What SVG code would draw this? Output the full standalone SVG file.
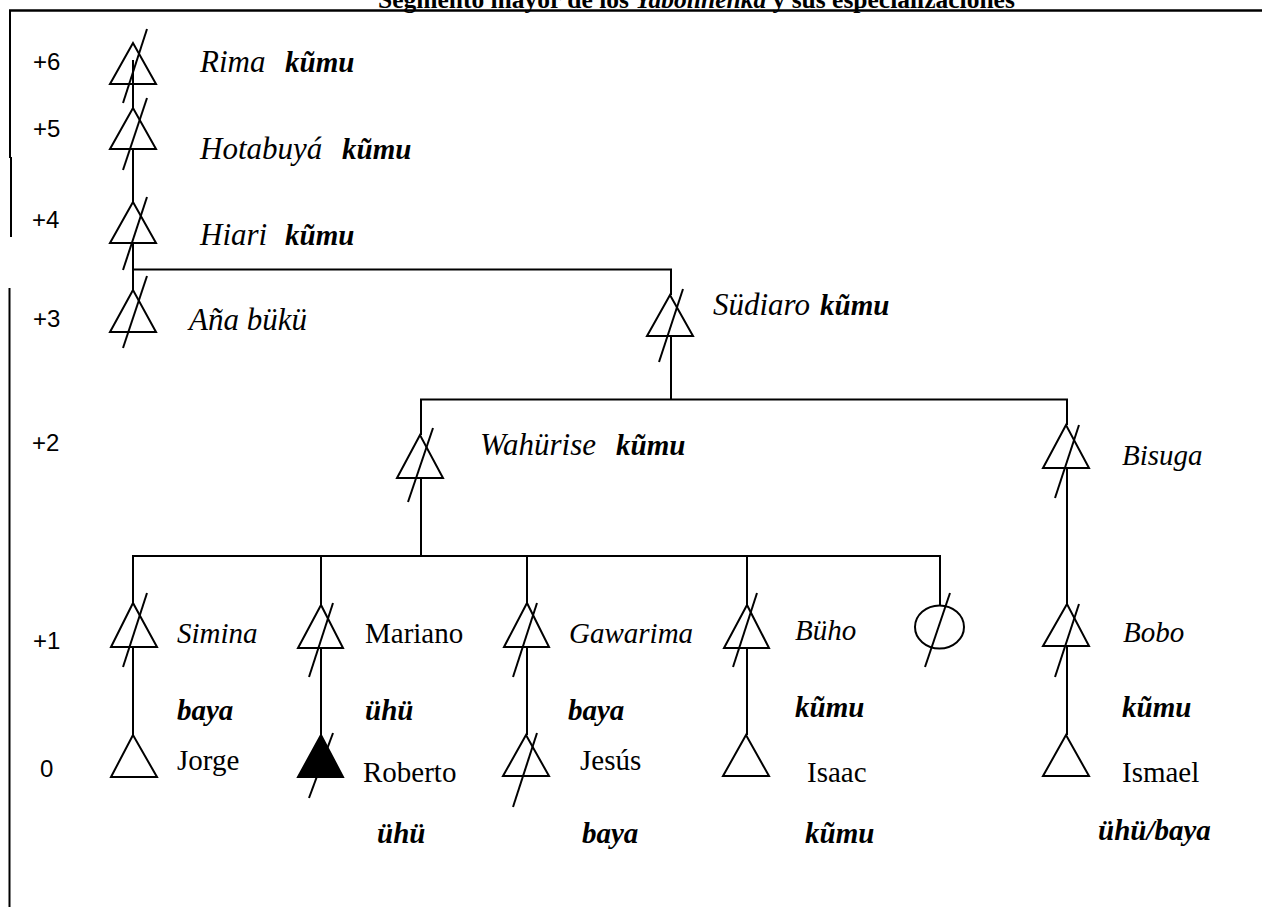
<svg xmlns="http://www.w3.org/2000/svg" width="1262" height="907" viewBox="0 0 1262 907">
<style>
.ln{stroke:#000;stroke-width:2;fill:none}
.tri{stroke:#000;stroke-width:2;fill:none;stroke-linejoin:miter}
.fill{fill:#000}
.sl{stroke:#000;stroke-width:2}
.gen{font-family:"Liberation Sans",Arial,sans-serif;font-size:24px;fill:#000}
.it{font-family:"Liberation Serif","Times New Roman",serif;font-style:italic;font-size:31px;fill:#000}
.it2{font-family:"Liberation Serif","Times New Roman",serif;font-style:italic;font-size:29px;fill:#000}
.rg{font-family:"Liberation Serif","Times New Roman",serif;font-size:29px;fill:#000}
.bi{font-family:"Liberation Serif","Times New Roman",serif;font-style:italic;font-weight:bold;font-size:29px;fill:#000}
.title{font-family:"Liberation Serif","Times New Roman",serif;font-weight:bold;font-size:25.5px;fill:#000}
</style>
<rect width="1262" height="907" fill="#fff"/>
<text class="title" x="378" y="8">Segmento mayor de los <tspan font-style="italic">Yabolihenka</tspan> y sus especializaciones</text>
<g id="frame">
<line x1="9" y1="10.5" x2="1262" y2="10.5" stroke="#000" stroke-width="2.5"/>
<line x1="10" y1="10" x2="10" y2="158" class="ln"/>
<line x1="11" y1="157" x2="11" y2="237" class="ln"/>
<line x1="9.5" y1="288" x2="9.5" y2="907" class="ln"/>
</g>
<g id="generations">
<text class="gen" x="33" y="70">+6</text>
<text class="gen" x="33" y="137">+5</text>
<text class="gen" x="32" y="228">+4</text>
<text class="gen" x="33" y="327">+3</text>
<text class="gen" x="32" y="451">+2</text>
<text class="gen" x="33" y="649">+1</text>
<text class="gen" x="40" y="777">0</text>
</g>
<g id="connectors">
<line class="ln" x1="133" y1="60" x2="133" y2="108"/>
<line class="ln" x1="133" y1="149" x2="133" y2="202"/>
<line class="ln" x1="133" y1="243" x2="133" y2="290"/>
<polyline class="ln" points="133,269.5 671,269.5 671,295"/>
<line class="ln" x1="671" y1="336" x2="671" y2="399.5"/>
<polyline class="ln" points="421,435 421,399.5 1067,399.5 1067,425"/>
<line class="ln" x1="421" y1="478" x2="421" y2="556"/>
<polyline class="ln" points="133,603 133,556 940,556 940,605"/>
<line class="ln" x1="321" y1="556" x2="321" y2="605"/>
<line class="ln" x1="527" y1="556" x2="527" y2="603"/>
<line class="ln" x1="747" y1="556" x2="747" y2="605"/>
<line class="ln" x1="133" y1="647" x2="133" y2="735"/>
<line class="ln" x1="321" y1="648" x2="321" y2="735"/>
<line class="ln" x1="527" y1="647" x2="527" y2="735"/>
<line class="ln" x1="747" y1="648" x2="747" y2="735"/>
<line class="ln" x1="1067" y1="468" x2="1067" y2="604"/>
<line class="ln" x1="1067" y1="646" x2="1067" y2="735"/>
</g>
<g id="rima">
<polygon class="tri" points="133,43 110,84 156,84"/>
<line class="sl" x1="147" y1="29" x2="123" y2="103"/>
<text class="it" x="200" y="72">Rima</text><text class="bi" font-size="31" x="285" y="72">kũmu</text>
</g>
<g id="hotabuya">
<polygon class="tri" points="133,108 110,149 156,149"/>
<line class="sl" x1="147" y1="98" x2="123" y2="170"/>
<text class="it" x="200" y="159">Hotabuyá</text><text class="bi" font-size="31" x="342" y="159">kũmu</text>
</g>
<g id="hiari">
<polygon class="tri" points="133,202 110,243 156,243"/>
<line class="sl" x1="147" y1="197" x2="123" y2="270"/>
<text class="it" x="200" y="245">Hiari</text><text class="bi" font-size="31" x="285" y="245">kũmu</text>
</g>
<g id="ana-buku">
<polygon class="tri" points="133,290 110,332 156,332"/>
<line class="sl" x1="147" y1="276" x2="123" y2="348"/>
<text class="it" font-size="28" x="189" y="330">Aña bükü</text>
</g>
<g id="sudiaro">
<polygon class="tri" points="670,295 647,336 693,336"/>
<line class="sl" x1="683" y1="289" x2="659" y2="362"/>
<text class="it" x="713" y="315">Südiaro</text><text class="bi" font-size="31" x="820" y="315">kũmu</text>
</g>
<g id="wahurise">
<polygon class="tri" points="420,435 397,478 443,478"/>
<line class="sl" x1="433" y1="428" x2="408" y2="502"/>
<text class="it" x="480" y="455">Wahürise</text><text class="bi" font-size="31" x="616" y="455">kũmu</text>
</g>
<g id="bisuga">
<polygon class="tri" points="1066,425 1043,468 1089,468"/>
<line class="sl" x1="1079" y1="425" x2="1055" y2="498"/>
<text class="it2" x="1122" y="465">Bisuga</text>
</g>
<g id="simina">
<polygon class="tri" points="133,603 111,647 157,647"/>
<line class="sl" x1="147" y1="593" x2="123" y2="667"/>
<text class="it2" x="177" y="643">Simina</text>
<text class="bi" x="177" y="720">baya</text>
</g>
<g id="jorge">
<polygon class="tri" points="133,735 111,777 157,777"/>
<text class="rg" x="177" y="770">Jorge</text>
</g>
<g id="mariano">
<polygon class="tri" points="321,605 298,648 343,648"/>
<line class="sl" x1="333" y1="603" x2="309" y2="677"/>
<text class="rg" x="365" y="643">Mariano</text>
<text class="bi" x="365" y="720">ühü</text>
</g>
<g id="roberto">
<polygon class="tri fill" points="321,735 298,777 343,777"/>
<line class="sl" x1="333" y1="733" x2="309" y2="798"/>
<text class="rg" x="363" y="782">Roberto</text>
<text class="bi" x="377" y="843">ühü</text>
</g>
<g id="gawarima">
<polygon class="tri" points="527,603 504,647 549,647"/>
<line class="sl" x1="537" y1="603" x2="513" y2="677"/>
<text class="it2" x="569" y="643">Gawarima</text>
<text class="bi" x="568" y="720">baya</text>
</g>
<g id="jesus">
<polygon class="tri" points="526,735 503,776 549,776"/>
<line class="sl" x1="537" y1="733" x2="513" y2="807"/>
<text class="rg" x="580" y="770">Jesús</text>
<text class="bi" x="582" y="843">baya</text>
</g>
<g id="buho">
<polygon class="tri" points="747,605 724,648 769,648"/>
<line class="sl" x1="757" y1="593" x2="733" y2="667"/>
<text class="it2" x="795" y="640">Büho</text>
<text class="bi" x="795" y="717">kũmu</text>
</g>
<g id="isaac">
<polygon class="tri" points="746,735 723,776 769,776"/>
<text class="rg" x="807" y="782">Isaac</text>
<text class="bi" x="805" y="843">kũmu</text>
</g>
<g id="female">
<ellipse cx="939.5" cy="627" rx="24.5" ry="21.5" class="ln"/>
<line class="sl" x1="950" y1="593" x2="925" y2="667"/>
</g>
<g id="bobo">
<polygon class="tri" points="1067,604 1043,646 1089,646"/>
<line class="sl" x1="1079" y1="604" x2="1055" y2="677"/>
<text class="it2" x="1123" y="642">Bobo</text>
<text class="bi" x="1122" y="717">kũmu</text>
</g>
<g id="ismael">
<polygon class="tri" points="1066,735 1043,776 1089,776"/>
<text class="rg" x="1122" y="782">Ismael</text>
<text class="bi" x="1098" y="840">ühü/baya</text>
</g>
</svg>
